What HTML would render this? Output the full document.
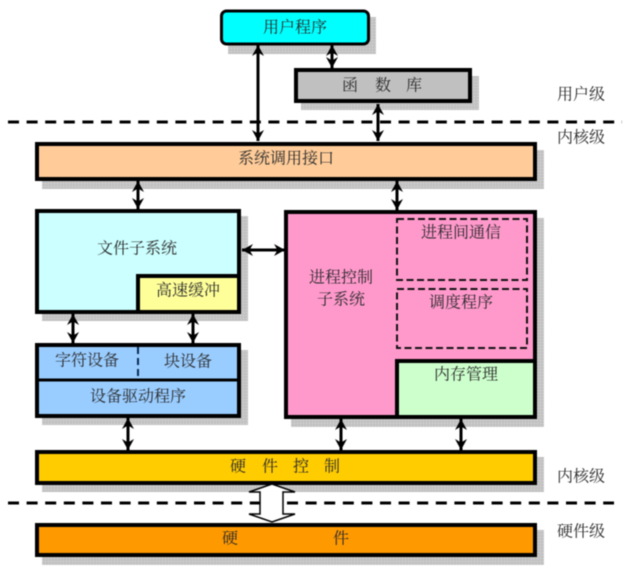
<!DOCTYPE html>
<html><head><meta charset="utf-8"><style>
html,body{margin:0;padding:0;background:#fff}
svg{display:block;filter:blur(0.45px)}
text{font-family:"Liberation Serif","Noto Serif CJK SC",serif;font-size:16px;fill:#2a2a2a;text-anchor:middle;dominant-baseline:central}
.b{fill:none;stroke:#000;stroke-width:4}
.a{stroke:#000;stroke-width:3;fill:none;marker-start:url(#h);marker-end:url(#h)}
.s{fill:url(#g)}
.d{stroke:#000;stroke-width:3;stroke-dasharray:11 7.6;fill:none}
.e{stroke:#111;stroke-width:2;stroke-dasharray:7 3.5;fill:none}
</style></head><body>
<svg width="626" height="569" viewBox="0 0 626 569" xmlns="http://www.w3.org/2000/svg">
<defs>
<pattern id="g" width="3" height="3" patternUnits="userSpaceOnUse"><rect width="3" height="3" fill="#c2c2c2"/><rect width="1" height="1" fill="#dedede"/></pattern>
<marker id="h" markerUnits="userSpaceOnUse" markerWidth="14" markerHeight="14" refX="11" refY="6.5" orient="auto-start-reverse"><path d="M11 6.5L0 0.5L3.5 6.5L0 12.5Z" fill="#000"/></marker>
</defs>
<rect width="626" height="569" fill="#fff"/>

<!-- shadows -->
<rect class="s" x="228" y="17" width="148" height="37"/>
<rect class="s" x="301" y="76" width="178" height="34"/>
<rect class="s" x="42" y="150" width="502" height="39"/>
<rect class="s" x="42" y="216" width="206" height="105"/>
<rect class="s" x="42" y="350" width="206" height="75"/>
<rect class="s" x="291" y="218" width="253" height="209"/>
<rect class="s" x="42" y="457" width="502" height="35"/>
<rect class="s" x="42" y="530" width="502" height="35"/>

<!-- level dividers -->
<path class="d" d="M8 122H622"/>
<path class="d" d="M8 503H614"/>

<!-- boxes -->
<rect x="221.5" y="11" width="147" height="33" rx="5" fill="#00ffff" stroke="#000" stroke-width="3"/>
<rect class="b" x="296" y="70" width="174" height="31" style="fill:#c0c0c0"/>
<rect class="b" x="37" y="144" width="498" height="35" style="fill:#ffcc99"/>
<rect class="b" x="37" y="211" width="202" height="101" style="fill:#ccffff"/>
<rect class="b" x="138" y="276" width="101" height="36" style="fill:#ffff99"/>
<rect class="b" x="37" y="345" width="202" height="71" style="fill:#99ccff"/>
<path d="M37 380H239" stroke="#000" stroke-width="3" fill="none"/>
<path d="M138 347V378" stroke="#0a2a55" stroke-width="2" stroke-dasharray="7 4" fill="none"/>
<rect class="b" x="286" y="212" width="249" height="205" style="fill:#ff99cc"/>
<rect class="e" x="397" y="219" width="130" height="61"/>
<rect class="e" x="397" y="289" width="130" height="59"/>
<rect class="b" x="397" y="361" width="138" height="56" style="fill:#ccffcc"/>
<rect class="b" x="37" y="452" width="498" height="31" style="fill:#ffcc00"/>
<rect class="b" x="37" y="525" width="498" height="30" style="fill:#ff9900"/>

<!-- connectors -->
<path class="a" d="M258 45V141"/>
<path class="a" d="M332 45V68"/>
<path class="a" d="M378 104V141"/>
<path class="a" d="M138 181V209"/>
<path class="a" d="M397 181V210"/>
<path class="a" d="M242 250H285"/>
<path class="a" d="M73 314V343"/>
<path class="a" d="M193 314V343"/>
<path class="a" d="M128 418V450"/>
<path class="a" d="M341 419V450"/>
<path class="a" d="M461 419V450"/>

<!-- hollow arrow -->
<path d="M272 484L249 492H260V514H249L272 522L295 514H283V492H295Z" fill="#fff" stroke="#000" stroke-width="1.5"/>

<!-- labels -->
<g transform="translate(0,1)">
<text x="295" y="27">用户程序</text>
<text x="350" y="85">函</text><text x="383" y="85">数</text><text x="414" y="85">库</text>
<text x="581" y="94">用户级</text>
<text x="581" y="137">内核级</text>
<text x="286" y="158">系统调用接口</text>
<text x="137" y="248">文件子系统</text>
<text x="188" y="290">高速缓冲</text>
<text x="87" y="360">字符设备</text>
<text x="188" y="361">块设备</text>
<text x="138" y="396">设备驱动程序</text>
<text x="341" y="277">进程控制</text>
<text x="341" y="299">子系统</text>
<text x="461" y="232">进程间通信</text>
<text x="461" y="302">调度程序</text>
<text x="466" y="374">内存管理</text>
<text x="238" y="466">硬</text><text x="270" y="466">件</text><text x="301" y="466">控</text><text x="332" y="466">制</text>
<text x="230" y="538">硬</text><text x="341" y="538">件</text>
<text x="581" y="476">内核级</text>
<text x="581" y="531">硬件级</text>
</g>
</svg>
</body></html>
